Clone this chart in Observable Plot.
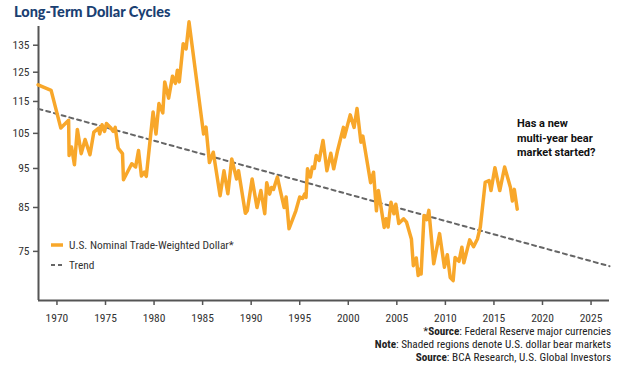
<!DOCTYPE html>
<html>
<head>
<meta charset="utf-8">
<script src="https://cdn.jsdelivr.net/npm/d3@7"></script>
<script src="https://cdn.jsdelivr.net/npm/@observablehq/plot@0.6"></script>
<style>
  html, body { margin: 0; padding: 0; background: white; }
  #wrap { position: relative; width: 625px; height: 366px; overflow: hidden; font-family: 'Liberation Sans Narrow', 'Roboto Condensed', Roboto, sans-serif; }
  #title { position: absolute; left: 14px; top: 3px; font-family: Lato, sans-serif; font-weight: 900; font-size: 14.5px; color: #1a4072; white-space: nowrap; }
  #chart { position: absolute; left: 0; top: 20px; }
  .leg { position: absolute; left: 51px; font-size: 11.4px; color: #333; white-space: nowrap; display: flex; align-items: center; height: 14px; }
  .leg svg { margin-right: 6px; }
  #note { position: absolute; left: 517px; top: 117px; font-family: Roboto, sans-serif; font-size: 11px; font-weight: bold; line-height: 14.5px; color: #111; }
  #foot { position: absolute; right: 14px; top: 325px; text-align: right; font-size: 11.2px; line-height: 13px; color: #222; white-space: nowrap; }
</style>
</head>
<body>
<div id="wrap">
  <div id="title">Long-Term Dollar Cycles</div>
  <div id="chart"></div>
  <div class="leg" style="top:238px"><svg width="12" height="6"><line x1="0" x2="12" y1="3" y2="3" stroke="#f8a72a" stroke-width="3.5"/></svg><span id="leg1"></span></div>
  <div class="leg" style="top:258px"><svg width="12" height="6"><line x1="0" x2="12" y1="3" y2="3" stroke="#666" stroke-width="2" stroke-dasharray="4,3"/></svg><span id="leg2"></span></div>
  <div id="note">Has a new<br>multi-year bear<br>market started?</div>
  <div id="foot">
    <div>*<b>Source</b>: Federal Reserve major currencies</div>
    <div><b>Note</b>: Shaded regions denote U.S. dollar bear markets</div>
    <div><b>Source</b>: BCA Research, U.S. Global Investors</div>
  </div>
</div>
<script>
const seriesNames = ["U.S. Nominal Trade-Weighted Dollar*", "Trend"];

const years = [
  1968.06, 1969.4, 1970.4, 1971.2, 1971.25, 1971.5, 1971.8, 1972.1, 1972.5, 1972.9,
  1973.4, 1973.8, 1974.3, 1974.4, 1974.65, 1974.9, 1975.1, 1975.5, 1975.8, 1976.0,
  1976.3, 1976.75, 1976.85, 1977.7, 1978.1, 1978.4, 1978.7, 1979.0, 1979.2, 1979.9,
  1980.2, 1980.5, 1980.9, 1981.1, 1981.5, 1981.9, 1982.2, 1982.4, 1982.6, 1983.0,
  1983.3, 1983.6, 1985.1, 1985.35, 1985.7, 1986.1, 1986.8, 1987.2, 1987.6, 1988.0,
  1988.5, 1988.7, 1989.4, 1989.6, 1990.1, 1990.6, 1991.0, 1991.4, 1991.6, 1991.9,
  1992.1, 1992.3, 1992.7, 1993.0, 1993.4, 1993.6, 1993.9, 1994.6, 1995.0, 1995.3,
  1995.5, 1995.65, 1995.8, 1996.1, 1996.3, 1996.5, 1996.7, 1997.0, 1997.4, 1997.8,
  1998.2, 1998.5, 1998.9, 1999.5, 1999.6, 2000.2, 2000.6, 2000.9, 2001.3, 2001.5,
  2002.3, 2002.6, 2002.9, 2003.1, 2003.7, 2003.9, 2004.1, 2004.4, 2004.7, 2004.9,
  2005.2, 2005.7, 2006.0, 2006.5, 2006.7, 2007.0, 2007.2, 2007.4, 2007.5, 2007.8,
  2008.1, 2008.3, 2008.8, 2009.4, 2009.9, 2010.2, 2010.5, 2010.8, 2011.0, 2011.4,
  2011.7, 2011.9, 2012.5, 2012.9, 2013.3, 2013.6, 2014.1, 2014.5, 2014.7, 2015.1,
  2015.6, 2016.1, 2016.7, 2016.9, 2017.1, 2017.4
];
const dollar = [
  120.6, 118.7, 106.6, 109.0, 98.6, 101.0, 96.0, 106.2, 99.1, 103.2,
  98.8, 105.4, 106.6, 104.8, 107.6, 105.6, 108.0, 106.8, 105.6, 106.8,
  100.7, 99.1, 92.0, 96.3, 95.4, 100.0, 93.0, 94.0, 92.9, 111.6,
  104.8, 114.3, 111.3, 121.6, 116.1, 123.6, 121.1, 125.7, 121.6, 135.6,
  133.6, 144.3, 104.8, 106.9, 96.6, 99.5, 87.9, 94.4, 88.4, 97.6,
  92.2, 94.4, 83.6, 84.2, 92.2, 85.0, 89.2, 83.5, 91.2, 88.3,
  90.0, 89.5, 92.7, 89.2, 85.0, 87.6, 80.0, 84.2, 87.6, 87.2,
  88.3, 87.5, 94.9, 92.7, 95.4, 95.0, 98.6, 97.2, 102.9, 94.4,
  99.2, 94.9, 100.0, 106.8, 103.9, 110.7, 106.8, 112.7, 102.4, 104.2,
  91.2, 94.0, 84.2, 89.2, 80.3, 82.3, 80.4, 86.3, 83.5, 85.8,
  81.2, 82.3, 81.5, 77.7, 72.0, 73.6, 70.0, 71.3, 70.3, 83.1,
  82.1, 84.3, 72.4, 78.9, 71.7, 74.3, 69.6, 69.0, 73.7, 72.9,
  75.9, 72.6, 77.5, 76.0, 77.7, 80.4, 91.3, 91.8, 89.2, 95.2,
  89.2, 95.4, 90.0, 86.6, 89.5, 84.6
];

const trendYears = [1968.1, 2026.9];
const trendValues = [112.6, 71.9];

const xDomain = [1968.1, 2026.9];
const yDomain = [65.2, 142.4];
const xTicks = [1970, 1975, 1980, 1985, 1990, 1995, 2000, 2005, 2010, 2015, 2020, 2025];
const yTicks = [75, 85, 95, 105, 115, 125, 135];

document.getElementById("leg1").textContent = seriesNames[0];
document.getElementById("leg2").textContent = seriesNames[1];

const dollarData = years.map((x, i) => ({x, y: dollar[i]}));
const trendData = trendYears.map((x, i) => ({x, y: trendValues[i]}));

const axisColor = "#555";
const chart = Plot.plot({
  width: 625,
  height: 306,
  marginTop: 6,
  marginBottom: 26,
  marginLeft: 38,
  marginRight: 16,
  style: {fontFamily: "'Liberation Sans Narrow', 'Roboto Condensed', Roboto, sans-serif", fontSize: "11.5px", color: "#333", background: "white", overflow: "visible"},
  x: {domain: xDomain, ticks: xTicks, tickFormat: d => String(d), tickSize: 5, tickPadding: 8, label: null},
  y: {type: "log", domain: yDomain, ticks: yTicks, tickFormat: d => String(d), tickSize: 5, tickPadding: 4, label: null},
  marks: [
    Plot.axisX({ticks: xTicks, tickFormat: d => String(d), tickSize: 5, tickPadding: 8, label: null, stroke: axisColor, strokeWidth: 1.5}),
    Plot.axisY({ticks: yTicks, tickFormat: d => String(d), tickSize: 5, tickPadding: 4, label: null, stroke: axisColor, strokeWidth: 1.5}),
    Plot.ruleY([yDomain[0]], {stroke: axisColor, strokeWidth: 2}),
    Plot.ruleX([xDomain[0]], {stroke: axisColor, strokeWidth: 2}),
    Plot.line(trendData, {x: "x", y: "y", stroke: "#666", strokeWidth: 2, strokeDasharray: "4,4"}),
    Plot.line(dollarData, {x: "x", y: "y", stroke: "#f8a72a", strokeWidth: 3.5, strokeLinejoin: "round", strokeLinecap: "round"})
  ]
});
document.getElementById("chart").appendChild(chart);
</script>
</body>
</html>
